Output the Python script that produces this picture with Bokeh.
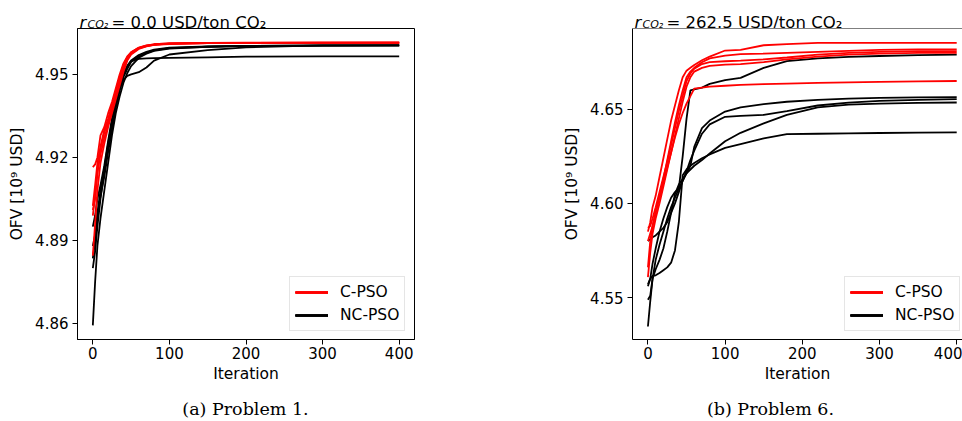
from bokeh.plotting import figure
from bokeh.models import (Range1d, FixedTicker, NumeralTickFormatter, Legend,
                          LegendItem, Label, Span)
from bokeh.layouts import row, column
from bokeh.embed import file_html
from bokeh.resources import INLINE

# ---------------- data : Problem 1 (r_CO2 = 0.0) ----------------
p1_iter = [0, 3, 6, 10, 15, 20, 25, 30, 35, 40, 45, 50, 60, 70, 80, 100, 150, 200, 300, 400]
p1_cpso = [
    [4.9165, 4.9175, 4.9200, 4.9280, 4.9310, 4.9360, 4.9400, 4.9450, 4.9500, 4.9540, 4.9565, 4.9580, 4.9597, 4.9605, 4.9609, 4.9612, 4.9614, 4.9615, 4.9615, 4.9615],
    [4.9025, 4.9100, 4.9180, 4.9240, 4.9300, 4.9340, 4.9390, 4.9440, 4.9490, 4.9535, 4.9560, 4.9578, 4.9595, 4.9603, 4.9608, 4.9611, 4.9613, 4.9614, 4.9615, 4.9615],
    [4.9010, 4.9050, 4.9150, 4.9210, 4.9270, 4.9320, 4.9370, 4.9420, 4.9470, 4.9520, 4.9555, 4.9575, 4.9594, 4.9602, 4.9607, 4.9611, 4.9613, 4.9614, 4.9614, 4.9615],
    [4.8845, 4.8960, 4.9080, 4.9180, 4.9250, 4.9310, 4.9360, 4.9410, 4.9460, 4.9510, 4.9550, 4.9572, 4.9592, 4.9601, 4.9607, 4.9610, 4.9613, 4.9614, 4.9614, 4.9614],
    [4.8990, 4.9060, 4.9140, 4.9230, 4.9290, 4.9330, 4.9380, 4.9430, 4.9480, 4.9530, 4.9562, 4.9580, 4.9596, 4.9604, 4.9609, 4.9612, 4.9613, 4.9614, 4.9615, 4.9615],
]
p1_ncpso = [
    [4.8593, 4.8750, 4.8880, 4.8980, 4.9080, 4.9180, 4.9280, 4.9360, 4.9420, 4.9470, 4.9505, 4.9530, 4.9560, 4.9575, 4.9585, 4.9593, 4.9600, 4.9603, 4.9605, 4.9605],
    [4.8800, 4.8860, 4.8950, 4.9050, 4.9150, 4.9240, 4.9320, 4.9390, 4.9450, 4.9500, 4.9530, 4.9548, 4.9556, 4.9558, 4.9559, 4.9560, 4.9562, 4.9564, 4.9565, 4.9565],
    [4.8835, 4.8900, 4.9000, 4.9080, 4.9160, 4.9250, 4.9330, 4.9400, 4.9450, 4.9480, 4.9495, 4.9500, 4.9508, 4.9525, 4.9550, 4.9572, 4.9588, 4.9598, 4.9605, 4.9605],
    [4.8950, 4.8990, 4.9050, 4.9100, 4.9170, 4.9260, 4.9340, 4.9410, 4.9460, 4.9500, 4.9530, 4.9550, 4.9570, 4.9582, 4.9590, 4.9597, 4.9601, 4.9603, 4.9604, 4.9605],
    [4.8880, 4.8920, 4.8990, 4.9060, 4.9130, 4.9220, 4.9300, 4.9380, 4.9440, 4.9490, 4.9520, 4.9545, 4.9565, 4.9578, 4.9587, 4.9595, 4.9600, 4.9603, 4.9604, 4.9605],
]
p1_yticks = [4.86, 4.89, 4.92, 4.95]

# ---------------- data : Problem 6 (r_CO2 = 262.5) ----------------
p6_iter = [0, 3, 6, 10, 15, 20, 25, 30, 35, 40, 45, 50, 55, 60, 70, 80, 100, 120, 150, 180, 220, 260, 300, 350, 400]
p6_cpso = [
    [4.5850, 4.5900, 4.5980, 4.6040, 4.6140, 4.6240, 4.6340, 4.6440, 4.6520, 4.6600, 4.6670, 4.6705, 4.6720, 4.6735, 4.6760, 4.6780, 4.6812, 4.6815, 4.6840, 4.6846, 4.6853, 4.6853, 4.6853, 4.6853, 4.6853],
    [4.5660, 4.5800, 4.5880, 4.5950, 4.6040, 4.6130, 4.6230, 4.6330, 4.6430, 4.6520, 4.6600, 4.6670, 4.6700, 4.6720, 4.6750, 4.6770, 4.6785, 4.6793, 4.6796, 4.6800, 4.6805, 4.6810, 4.6815, 4.6818, 4.6818],
    [4.5870, 4.5880, 4.5920, 4.5980, 4.6060, 4.6140, 4.6220, 4.6310, 4.6400, 4.6490, 4.6570, 4.6650, 4.6690, 4.6715, 4.6740, 4.6750, 4.6755, 4.6758, 4.6765, 4.6775, 4.6790, 4.6800, 4.6805, 4.6809, 4.6809],
    [4.5608, 4.5740, 4.5840, 4.5920, 4.6000, 4.6090, 4.6180, 4.6270, 4.6360, 4.6450, 4.6540, 4.6620, 4.6670, 4.6700, 4.6720, 4.6730, 4.6737, 4.6740, 4.6750, 4.6765, 4.6780, 4.6790, 4.6796, 4.6800, 4.6800],
    [4.5800, 4.5840, 4.5880, 4.5950, 4.6030, 4.6110, 4.6190, 4.6270, 4.6350, 4.6420, 4.6480, 4.6530, 4.6570, 4.6610, 4.6615, 4.6620, 4.6625, 4.6630, 4.6633, 4.6636, 4.6640, 4.6643, 4.6646, 4.6648, 4.6650],
]
p6_ncpso = [
    [4.5570, 4.5600, 4.5680, 4.5760, 4.5850, 4.5920, 4.5980, 4.6030, 4.6060, 4.6080, 4.6250, 4.6450, 4.6600, 4.6606, 4.6615, 4.6635, 4.6655, 4.6667, 4.6720, 4.6756, 4.6770, 4.6778, 4.6783, 4.6788, 4.6790],
    [4.5488, 4.5510, 4.5600, 4.5700, 4.5780, 4.5850, 4.5920, 4.5980, 4.6030, 4.6080, 4.6120, 4.6160, 4.6200, 4.6300, 4.6400, 4.6440, 4.6488, 4.6510, 4.6527, 4.6540, 4.6550, 4.6556, 4.6560, 4.6563, 4.6564],
    [4.5800, 4.5810, 4.5820, 4.5830, 4.5850, 4.5870, 4.5900, 4.5950, 4.6000, 4.6060, 4.6120, 4.6170, 4.6230, 4.6280, 4.6370, 4.6420, 4.6460, 4.6465, 4.6470, 4.6490, 4.6520, 4.6535, 4.6545, 4.6550, 4.6554],
    [4.5346, 4.5480, 4.5600, 4.5650, 4.5700, 4.5760, 4.5850, 4.5950, 4.6050, 4.6100, 4.6130, 4.6160, 4.6180, 4.6200, 4.6230, 4.6265, 4.6330, 4.6375, 4.6425, 4.6470, 4.6510, 4.6525, 4.6530, 4.6534, 4.6536],
    [4.5560, 4.5600, 4.5615, 4.5618, 4.5630, 4.5645, 4.5660, 4.5685, 4.5750, 4.5900, 4.6150, 4.6180, 4.6200, 4.6215, 4.6240, 4.6260, 4.6295, 4.6315, 4.6345, 4.6368, 4.6370, 4.6372, 4.6374, 4.6376, 4.6377],
]
p6_yticks = [4.55, 4.60, 4.65]

x_ticks = [0, 100, 200, 300, 400]
series_labels = ["C-PSO", "NC-PSO"]
titles_value = ["= 0.0 USD/ton CO\u2082", "= 262.5 USD/ton CO\u2082"]
captions = ["(a) Problem 1.", "(b) Problem 6."]

FONT = "DejaVu Sans"
HEAD_H = 28      # strip above the plot (title)
FOOT_H = 27      # strip below the plot (caption)
MAIN_H = 421 - HEAD_H - FOOT_H


def strip(width, height):
    s = figure(width=width, height=height, x_range=Range1d(0, 1),
               y_range=Range1d(0, 1), output_backend="svg",
               toolbar_location=None, min_border=0,
               x_axis_location=None, y_axis_location=None)
    s.grid.visible = False
    s.outline_line_color = None
    s.background_fill_color = "white"
    s.border_fill_color = "white"
    return s


def make_panel(width, border_left, border_right, x_end, y_start, y_end,
               iters, cpso, ncpso, yticks, title_val, caption, caption_x,
               outline):
    p = figure(width=width, height=MAIN_H,
               x_range=Range1d(-20, x_end), y_range=Range1d(y_start, y_end),
               output_backend="svg", toolbar_location=None,
               min_border_left=border_left, min_border_right=border_right,
               min_border_top=0, min_border_bottom=MAIN_H - 311)
    p.xgrid.visible = False
    p.ygrid.visible = False
    p.background_fill_color = "white"
    p.border_fill_color = "white"
    if outline:
        p.outline_line_color = "black"
        p.outline_line_width = 1
    else:
        p.outline_line_color = None
        p.add_layout(Span(location=y_end, dimension="width",
                          line_color="black", line_width=1))

    p.xaxis.ticker = FixedTicker(ticks=x_ticks)
    p.yaxis.ticker = FixedTicker(ticks=yticks)
    p.yaxis.formatter = NumeralTickFormatter(format="0.00")
    p.xaxis.axis_label = "Iteration"
    p.yaxis.axis_label = "OFV [10\u2079 USD]"
    for ax in (p.xaxis[0], p.yaxis[0]):
        ax.major_label_text_font = FONT
        ax.major_label_text_font_size = "15px"
        ax.major_label_text_color = "black"
        ax.axis_label_text_font = FONT
        ax.axis_label_text_font_size = "15.5px"
        ax.axis_label_text_font_style = "normal"
        ax.axis_label_text_color = "black"
        ax.axis_line_color = "black"
        ax.major_tick_line_color = "black"
        ax.major_tick_out = 5
        ax.major_tick_in = 0
        ax.minor_tick_out = 0
        ax.minor_tick_in = 0
    p.xaxis.major_label_standoff = 2
    p.xaxis.axis_label_standoff = 3
    p.yaxis.major_label_standoff = 4
    p.yaxis.axis_label_standoff = 6

    black_rs = [p.line(iters, run, line_color="black", line_width=1.8)
                for run in ncpso]
    red_rs = [p.line(iters, run, line_color="red", line_width=1.8)
              for run in cpso]

    legend = Legend(items=[LegendItem(label=series_labels[0], renderers=red_rs),
                           LegendItem(label=series_labels[1], renderers=black_rs)],
                    location=(212, 8), margin=0, padding=5, spacing=3,
                    glyph_width=33, glyph_height=20, label_height=20,
                    label_standoff=12, label_text_font=FONT,
                    label_text_font_size="15.5px", label_text_color="black",
                    border_line_color="#cccccc", border_line_width=1,
                    background_fill_alpha=0.8)
    p.add_layout(legend)

    # strips share the plot frame's left edge (column aligns the frames),
    # so screen x below is measured from the plot frame's left side
    head = strip(width, HEAD_H)
    base = HEAD_H - 21.5
    head.add_layout(Label(x=2, y=base, x_units="screen", y_units="screen",
                          text="r", text_font=FONT, text_font_size="16.5px",
                          text_font_style="italic", text_color="black",
                          text_baseline="alphabetic"))
    head.add_layout(Label(x=10, y=base - 2.3, x_units="screen",
                          y_units="screen", text="CO\u2082", text_font=FONT,
                          text_font_size="11px", text_font_style="italic",
                          text_color="black", text_baseline="alphabetic"))
    head.add_layout(Label(x=34, y=base, x_units="screen",
                          y_units="screen", text=title_val, text_font=FONT,
                          text_font_size="16.5px", text_color="black",
                          text_baseline="alphabetic"))

    foot = strip(width, FOOT_H)
    foot.add_layout(Label(x=caption_x, y=13, x_units="screen", y_units="screen",
                          text=caption, text_font="DejaVu Serif",
                          text_font_size="17.5px", text_color="black",
                          text_align="center", text_baseline="middle"))
    return column(head, p, foot)


c1 = make_panel(480, 77, 66, 420, 4.8542, 4.9666, p1_iter, p1_cpso, p1_ncpso,
                p1_yticks, titles_value[0], captions[0], 168, True)
c2 = make_panel(482, 152, 0, 407.5, 4.5277, 4.6929, p6_iter, p6_cpso, p6_ncpso,
                p6_yticks, titles_value[1], captions[1], 138, False)

layout = row(c1, c2)
open("out.html", "w").write(file_html(layout, INLINE))
